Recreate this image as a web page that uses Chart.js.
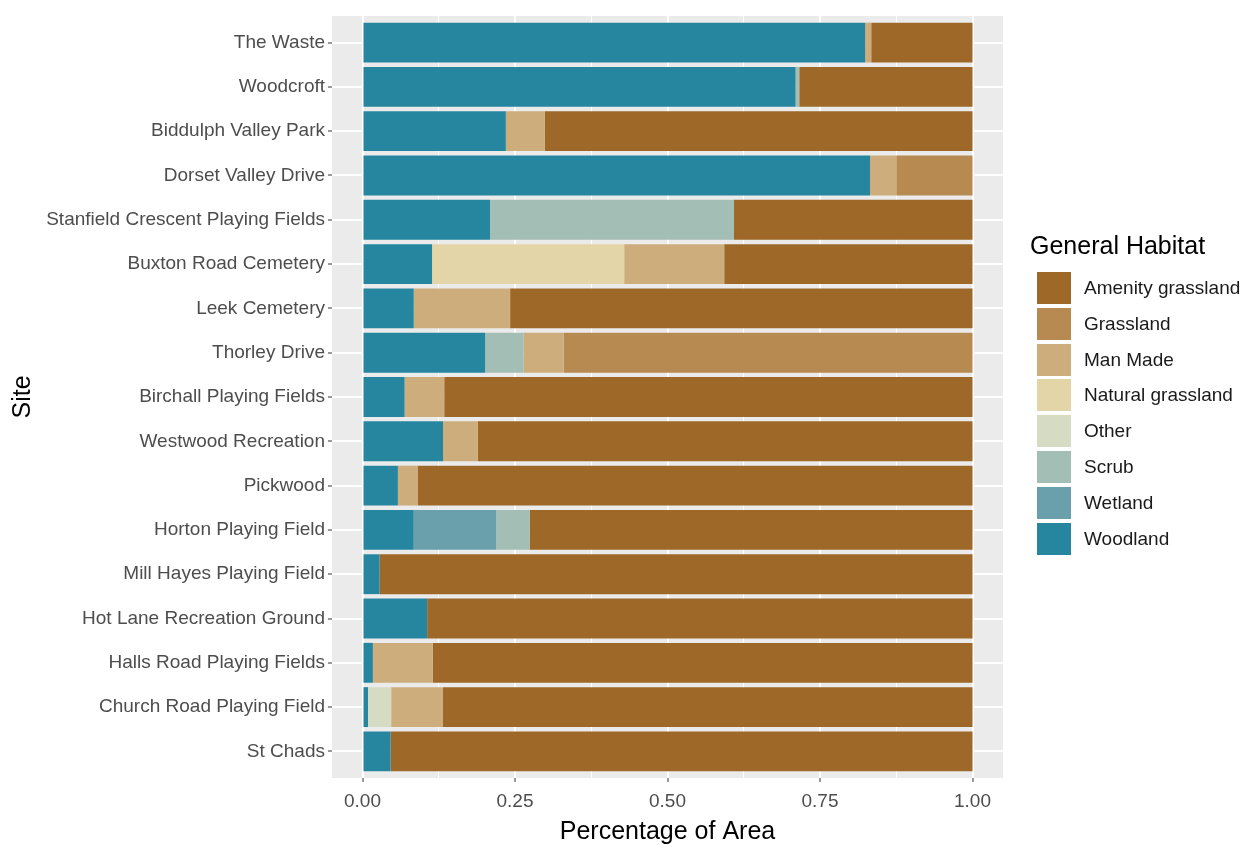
<!DOCTYPE html>
<html>
<head>
<meta charset="utf-8">
<script src="https://cdn.jsdelivr.net/npm/chart.js@4.4.1/dist/chart.umd.min.js"></script>
<style>
  body { margin: 0; background: #fff; font-family: 'Liberation Sans', Arial, sans-serif; }
  #wrap { position: relative; width: 1245px; height: 845px; overflow: hidden; }
  #legend { position: absolute; left: 1030px; top: 230px; color: #1a1a1a; }
  #legend .title { font-size: 25px; line-height: 30px; color: #000; margin-bottom: 12px; }
  #legend .row { display: flex; align-items: flex-start; height: 35.8px; padding-left: 7px; }
  #legend .box { width: 34px; height: 32px; }
  #legend .lab { font-size: 19px; line-height: 32px; margin-left: 13px; }
</style>
</head>
<body>
<div id="wrap">
  <canvas id="grafico" width="1245" height="845"></canvas>
  <div id="legend"></div>
</div>
<script>
// sites, top to bottom
const sites = ['The Waste', 'Woodcroft', 'Biddulph Valley Park', 'Dorset Valley Drive',
  'Stanfield Crescent Playing Fields', 'Buxton Road Cemetery', 'Leek Cemetery', 'Thorley Drive',
  'Birchall Playing Fields', 'Westwood Recreation', 'Pickwood', 'Horton Playing Field',
  'Mill Hayes Playing Field', 'Hot Lane Recreation Ground', 'Halls Road Playing Fields',
  'Church Road Playing Field', 'St Chads'];

// share of area per habitat (same order as sites)
const woodland         = [0.824, 0.710, 0.235, 0.832, 0.209, 0.114, 0.084, 0.201, 0.069, 0.132, 0.058, 0.084, 0.028, 0.106, 0.017, 0.009, 0.046];
const wetland          = [0, 0, 0, 0, 0, 0, 0, 0, 0, 0, 0, 0.135, 0, 0, 0, 0, 0];
const scrub            = [0, 0.006, 0, 0, 0.400, 0, 0, 0.063, 0, 0, 0, 0.055, 0, 0, 0, 0, 0];
const other            = [0, 0, 0, 0, 0, 0, 0, 0, 0, 0, 0, 0, 0, 0, 0, 0.038, 0];
const naturalGrassland = [0, 0, 0, 0, 0, 0.315, 0, 0, 0, 0, 0, 0, 0, 0, 0, 0, 0];
const manMade          = [0.010, 0, 0.064, 0.043, 0, 0.164, 0.158, 0.066, 0.065, 0.057, 0.033, 0, 0, 0, 0.098, 0.085, 0];
const grassland        = [0, 0, 0, 0.125, 0, 0, 0, 0.670, 0, 0, 0, 0, 0, 0, 0, 0, 0];
const amenity          = [0.166, 0.284, 0.701, 0, 0.391, 0.407, 0.758, 0, 0.866, 0.811, 0.909, 0.726, 0.972, 0.894, 0.885, 0.868, 0.954];

const xTicks = [0, 0.125, 0.25, 0.375, 0.5, 0.625, 0.75, 0.875, 1];

// stacked left to right
const series = [
  { name: 'Woodland', values: woodland, color: '#26869F' },
  { name: 'Wetland', values: wetland, color: '#6AA0AB' },
  { name: 'Scrub', values: scrub, color: '#A3BEB4' },
  { name: 'Other', values: other, color: '#D6DCC4' },
  { name: 'Natural grassland', values: naturalGrassland, color: '#E4D5A8' },
  { name: 'Man Made', values: manMade, color: '#CDAD7B' },
  { name: 'Grassland', values: grassland, color: '#B78A52' },
  { name: 'Amenity grassland', values: amenity, color: '#9E6828' }
];

Chart.defaults.font.family = "'Liberation Sans', Arial, sans-serif";

const painel = {
  id: 'painel',
  beforeDraw(chart) {
    const { ctx, chartArea: a } = chart;
    ctx.save();
    ctx.fillStyle = '#EBEBEB';
    ctx.fillRect(a.left, a.top, a.right - a.left, a.bottom - a.top);
    ctx.restore();
  }
};

const isMajor = v => Math.abs(v * 4 - Math.round(v * 4)) < 1e-6;

const ctx = document.getElementById('grafico').getContext('2d');
const grafico = new Chart(ctx, {
  type: 'bar',
  data: {
    datasets: series.map(s => ({
      label: s.name,
      data: s.values.map((v, i) => ({ x: v, y: i })),
      backgroundColor: s.color,
      borderWidth: 0,
      categoryPercentage: 0.9,
      barPercentage: 1
    }))
  },
  options: {
    indexAxis: 'y',
    responsive: false,
    animation: false,
    layout: { padding: { top: 16, right: 242, bottom: 0, left: 8 } },
    plugins: { legend: { display: false }, tooltip: { enabled: false } },
    scales: {
      x: {
        type: 'linear',
        stacked: true,
        min: -0.05,
        max: 1.05,
        afterBuildTicks: scale => { scale.ticks = xTicks.map(v => ({ value: v })); },
        afterFit: scale => { scale.height = 67; },
        border: { display: false },
        grid: {
          color: '#FFFFFF',
          lineWidth: c => (c.tick && isMajor(c.tick.value) ? 2 : 1),
          tickColor: c => (c.tick && isMajor(c.tick.value) ? '#333333' : 'rgba(0,0,0,0)'),
          tickLength: 4,
          tickWidth: 1
        },
        ticks: {
          autoSkip: false,
          maxRotation: 0,
          padding: 8,
          color: '#4D4D4D',
          font: { size: 19 },
          callback: v => (isMajor(v) ? v.toFixed(2) : '')
        },
        title: {
          display: true,
          text: 'Percentage of Area',
          color: '#000',
          font: { size: 25 },
          padding: { top: 0, bottom: -2 }
        }
      },
      y: {
        type: 'linear',
        stacked: true,
        reverse: true,
        offset: false,
        min: -0.6,
        max: 16.6,
        afterBuildTicks: scale => { scale.ticks = sites.map((s, i) => ({ value: i })); },
        afterFit: scale => { scale.width = 324; },
        border: { display: false },
        grid: {
          offset: false,
          color: '#FFFFFF',
          lineWidth: 2,
          tickColor: '#333333',
          tickLength: 4,
          tickWidth: 1
        },
        ticks: {
          autoSkip: false,
          padding: 3,
          color: '#4D4D4D',
          font: { size: 19 },
          callback: v => sites[v]
        },
        title: {
          display: true,
          text: 'Site',
          color: '#000',
          font: { size: 25 },
          padding: { top: 0, bottom: 0 }
        }
      }
    }
  },
  plugins: [painel]
});

// legend, same order as the reference (reversed stack)
const leg = document.getElementById('legend');
let html = '<div class="title">General Habitat</div>';
grafico.data.datasets.slice().reverse().forEach(d => {
  html += '<div class="row"><div class="box" style="background:' + d.backgroundColor + '"></div>' +
    '<div class="lab">' + d.label + '</div></div>';
});
leg.innerHTML = html;
</script>
</body>
</html>
